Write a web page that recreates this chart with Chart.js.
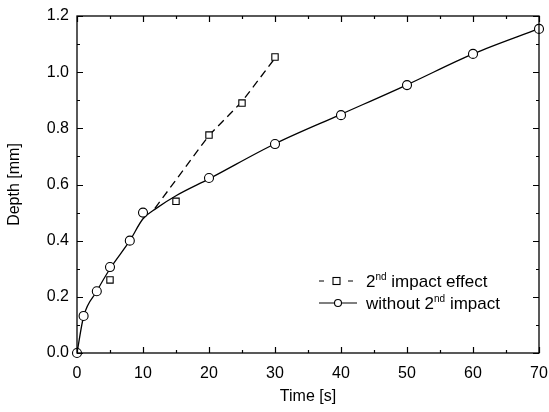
<!DOCTYPE html>
<html>
<head>
<meta charset="utf-8">
<script src="https://cdn.jsdelivr.net/npm/chart.js@4.4.1/dist/chart.umd.min.js"></script>
<style>
  html, body { margin: 0; padding: 0; background: #fff; }
  #wrap { width: 549px; height: 412px; }
</style>
</head>
<body>
<div id="wrap"><canvas id="chart"></canvas></div>
<script>
// --- data ---
const timeCircles = [0, 1, 3, 5, 8, 10, 20, 30, 40, 50, 60, 70];
const depthCircles = [0, 0.132, 0.22, 0.306, 0.40, 0.50, 0.623, 0.744, 0.847, 0.954, 1.065, 1.154];

const timeSquares = [5, 15, 20, 25, 30];
const depthSquares = [0.26, 0.54, 0.776, 0.89, 1.054];

// fitted curves as drawn on the figure
const fitTime = [0, 1, 3, 5, 8, 10, 12, 15, 20, 30, 40, 50, 60, 70];
const fitDepth = [0, 0.13, 0.22, 0.30, 0.40, 0.478, 0.515, 0.56, 0.62, 0.745, 0.85, 0.955, 1.065, 1.155];

const dashTime = [11.8, 20, 25, 30];
const dashDepth = [0.515, 0.775, 0.895, 1.05];

const xMajor = [0, 10, 20, 30, 40, 50, 60, 70];
const yMajor = [0, 0.2, 0.4, 0.6, 0.8, 1.0, 1.2];

const FONT = "'Liberation Sans', Arial, sans-serif";

function pts(xs, ys) {
  return xs.map((x, i) => ({ x: x, y: ys[i] }));
}

// frame, inward ticks on all four sides, and the legend inside the plot
const frameTicks = {
  id: "frameTicks",
  afterDraw(chart) {
    const { ctx, chartArea: a, scales } = chart;
    const xs = scales.x, ys = scales.y;
    ctx.save();
    ctx.strokeStyle = "#000";
    ctx.lineWidth = 1.3;
    ctx.strokeRect(a.left, a.top, a.right - a.left, a.bottom - a.top);
    ctx.lineWidth = 1.2;
    ctx.beginPath();
    for (let v = 0; v <= 70; v += 5) {
      const px = Math.round(xs.getPixelForValue(v)) + 0.5;
      const len = v % 10 === 0 ? 6 : 3;
      ctx.moveTo(px, a.bottom); ctx.lineTo(px, a.bottom - len);
      ctx.moveTo(px, a.top); ctx.lineTo(px, a.top + len);
    }
    for (let k = 0; k <= 12; k++) {
      const py = Math.round(ys.getPixelForValue(k / 10)) + 0.5;
      const len = k % 2 === 0 ? 6 : 3;
      ctx.moveTo(a.left, py); ctx.lineTo(a.left + len, py);
      ctx.moveTo(a.right, py); ctx.lineTo(a.right - len, py);
    }
    ctx.stroke();

    // legend
    ctx.fillStyle = "#fff";
    ctx.lineWidth = 1.1;
    let y = 281;
    ctx.beginPath();
    ctx.moveTo(319, y); ctx.lineTo(324, y);
    ctx.moveTo(348, y); ctx.lineTo(353, y);
    ctx.stroke();
    ctx.fillRect(333, y - 3.5, 7, 7);
    ctx.strokeRect(333, y - 3.5, 7, 7);

    y = 303;
    ctx.beginPath();
    ctx.moveTo(319, y); ctx.lineTo(357, y);
    ctx.stroke();
    ctx.beginPath();
    ctx.arc(338, y, 3.5, 0, Math.PI * 2);
    ctx.fill();
    ctx.stroke();

    ctx.fillStyle = "#000";
    ctx.textBaseline = "alphabetic";
    function supText(x, base, parts) {
      parts.forEach(p => {
        ctx.font = (p.sup ? "10px " : "17px ") + FONT;
        ctx.fillText(p.t, x, p.sup ? base - 7 : base);
        x += ctx.measureText(p.t).width;
      });
    }
    supText(366, 287, [{ t: "2" }, { t: "nd", sup: true }, { t: " impact effect" }]);
    supText(366, 309, [{ t: "without 2" }, { t: "nd", sup: true }, { t: " impact" }]);
    ctx.restore();
  }
};

const ctx = document.getElementById("chart").getContext("2d");
new Chart(ctx, {
  type: "scatter",
  data: {
    datasets: [
      {
        label: "fit without 2nd impact",
        data: pts(fitTime, fitDepth),
        showLine: true,
        borderColor: "#000",
        borderWidth: 1.3,
        pointRadius: 0,
        cubicInterpolationMode: "monotone",
        order: 4
      },
      {
        label: "fit 2nd impact",
        data: pts(dashTime, dashDepth),
        showLine: true,
        borderColor: "#000",
        borderWidth: 1.3,
        borderDash: [8, 5],
        pointRadius: 0,
        order: 3
      },
      {
        label: "without 2nd impact",
        data: pts(timeCircles, depthCircles),
        pointStyle: "circle",
        pointRadius: 4.5,
        pointBorderWidth: 1.1,
        pointBorderColor: "#000",
        pointBackgroundColor: "#fff",
        order: 1
      },
      {
        label: "2nd impact effect",
        data: pts(timeSquares, depthSquares),
        pointStyle: "rect",
        pointRadius: 4.5,
        pointBorderWidth: 1.1,
        pointBorderColor: "#000",
        pointBackgroundColor: "#fff",
        order: 2
      }
    ]
  },
  options: {
    responsive: true,
    maintainAspectRatio: false,
    animation: false,
    clip: false,
    layout: { padding: { top: 16, right: 10, left: 0, bottom: 0 } },
    plugins: { legend: { display: false }, tooltip: { enabled: false } },
    scales: {
      x: {
        type: "linear",
        min: 0, max: 70,
        afterBuildTicks: s => { s.ticks = xMajor.map(v => ({ value: v })); },
        afterFit: s => { s.height = 59; s.paddingLeft = 0; s.paddingRight = 0; },
        grid: { display: false, drawTicks: false },
        border: { display: false },
        ticks: { color: "#000", font: { family: FONT, size: 16 }, padding: 11, maxRotation: 0,
                 callback: v => String(v) },
        title: { display: true, text: "Time [s]", color: "#000", font: { family: FONT, size: 16 }, padding: { top: 0, bottom: 6 } }
      },
      y: {
        type: "linear",
        min: 0, max: 1.2,
        afterBuildTicks: s => { s.ticks = yMajor.map(v => ({ value: v })); },
        afterFit: s => { s.width = 77; s.paddingTop = 0; s.paddingBottom = 0; },
        grid: { display: false, drawTicks: false },
        border: { display: false },
        ticks: { color: "#000", font: { family: FONT, size: 16 }, padding: 8,
                 callback: v => Number(v).toFixed(1) },
        title: { display: true, text: "Depth [mm]", color: "#000", font: { family: FONT, size: 16 }, padding: { top: 5, bottom: 0 } }
      }
    }
  },
  plugins: [frameTicks]
});
</script>
</body>
</html>
